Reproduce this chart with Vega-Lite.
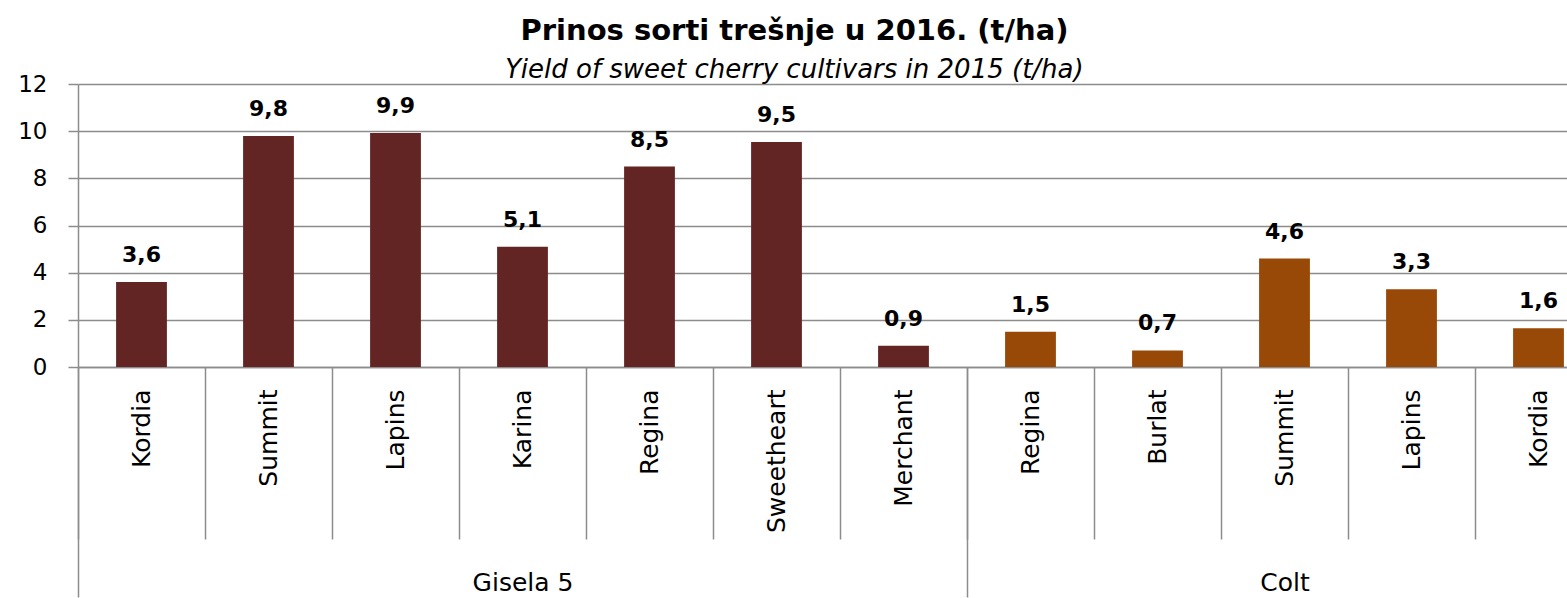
{
  "$schema": "https://vega.github.io/schema/vega-lite/v6.json",
  "width": 1489,
  "height": 283,
  "autosize": {"type": "none"},
  "padding": {"left": 78, "top": 84, "right": 0, "bottom": 231},
  "title": {
    "text": "Prinos sorti trešnje u 2016. (t/ha)",
    "subtitle": "Yield of sweet cherry cultivars in 2015 (t/ha)",
    "font": "DejaVu Sans",
    "fontSize": 29,
    "fontWeight": "bold",
    "color": "black",
    "subtitleFont": "DejaVu Sans",
    "subtitleFontSize": 26,
    "subtitleFontStyle": "italic",
    "subtitleColor": "black",
    "anchor": "middle",
    "frame": "group",
    "dx": -28,
    "offset": -10,
    "subtitlePadding": 11
  },
  "config": {
    "locale": {"number": {"decimal": ",", "thousands": ".", "grouping": [3], "currency": ["", " €"]}},
    "view": {"stroke": null}
  },
  "data": {
    "values": [
      {"group": "Gisela 5", "cultivar": "Kordia", "key": "Gisela 5|Kordia", "yield": 3.6},
      {"group": "Gisela 5", "cultivar": "Summit", "key": "Gisela 5|Summit", "yield": 9.8},
      {"group": "Gisela 5", "cultivar": "Lapins", "key": "Gisela 5|Lapins", "yield": 9.92},
      {"group": "Gisela 5", "cultivar": "Karina", "key": "Gisela 5|Karina", "yield": 5.1},
      {"group": "Gisela 5", "cultivar": "Regina", "key": "Gisela 5|Regina", "yield": 8.5},
      {"group": "Gisela 5", "cultivar": "Sweetheart", "key": "Gisela 5|Sweetheart", "yield": 9.54},
      {"group": "Gisela 5", "cultivar": "Merchant", "key": "Gisela 5|Merchant", "yield": 0.9},
      {"group": "Colt", "cultivar": "Regina", "key": "Colt|Regina", "yield": 1.5},
      {"group": "Colt", "cultivar": "Burlat", "key": "Colt|Burlat", "yield": 0.7},
      {"group": "Colt", "cultivar": "Summit", "key": "Colt|Summit", "yield": 4.6},
      {"group": "Colt", "cultivar": "Lapins", "key": "Colt|Lapins", "yield": 3.3},
      {"group": "Colt", "cultivar": "Kordia", "key": "Colt|Kordia", "yield": 1.64}
    ]
  },
  "encoding": {
    "y": {
      "field": "yield",
      "type": "quantitative",
      "scale": {"domain": [0, 12], "nice": false},
      "axis": {
        "values": [0, 2, 4, 6, 8, 10, 12],
        "title": null,
        "grid": true,
        "gridColor": "#8c8c8c",
        "gridWidth": 1.5,
        "domainColor": "#8c8c8c",
        "domainWidth": 1.5,
        "tickColor": "#8c8c8c",
        "tickWidth": 1.5,
        "tickSize": 10,
        "labelFont": "DejaVu Sans",
        "labelFontSize": 23,
        "labelColor": "black",
        "labelPadding": 21,
        "format": "d"
      }
    }
  },
  "layer": [
    {
      "mark": {"type": "bar", "width": {"band": 0.4}},
      "encoding": {
        "x": {
          "field": "key",
          "type": "nominal",
          "sort": null,
          "scale": {"range": [0, 1524], "paddingInner": 0, "paddingOuter": 0},
          "axis": {
            "title": null,
            "tickBand": "extent",
            "tickSize": 172,
            "tickColor": "#8c8c8c",
            "tickWidth": 1.5,
            "domainColor": "#8c8c8c",
            "domainWidth": 1.5,
            "labelAngle": -90,
            "labelAlign": "right",
            "labelBaseline": "middle",
            "labelFont": "DejaVu Sans",
            "labelFontSize": 25,
            "labelColor": "black",
            "labelPadding": -150,
            "labelOverlap": false,
            "labelExpr": "split(datum.value, '|')[1]"
          }
        },
        "color": {
          "field": "group",
          "type": "nominal",
          "scale": {"domain": ["Gisela 5", "Colt"], "range": ["#632523", "#984807"]},
          "legend": null
        }
      }
    },
    {
      "mark": {"type": "text", "baseline": "bottom", "dy": -15, "font": "DejaVu Sans", "fontSize": 22, "fontWeight": "bold", "color": "black"},
      "encoding": {
        "x": {
          "field": "key",
          "type": "nominal",
          "sort": null,
          "axis": {
            "orient": "bottom",
            "title": null,
            "domain": false,
            "tickBand": "extent",
            "tickSize": 230,
            "tickColor": "#8c8c8c",
            "tickWidth": 1.5,
            "tickOpacity": {"condition": {"test": "datum.value === 'Gisela 5|Merchant' || datum.extra", "value": 1}, "value": 0},
            "labelExpr": "datum.value === 'Gisela 5|Karina' ? 'Gisela 5' : (datum.value === 'Colt|Summit' ? 'Colt' : '')",
            "labelAngle": 0,
            "labelFont": "DejaVu Sans",
            "labelFontSize": 25,
            "labelColor": "black",
            "labelPadding": -27,
            "labelOverlap": false
          }
        },
        "text": {"field": "yield", "type": "quantitative", "format": ".1f"}
      }
    }
  ],
  "resolve": {"axis": {"x": "independent"}}
}
